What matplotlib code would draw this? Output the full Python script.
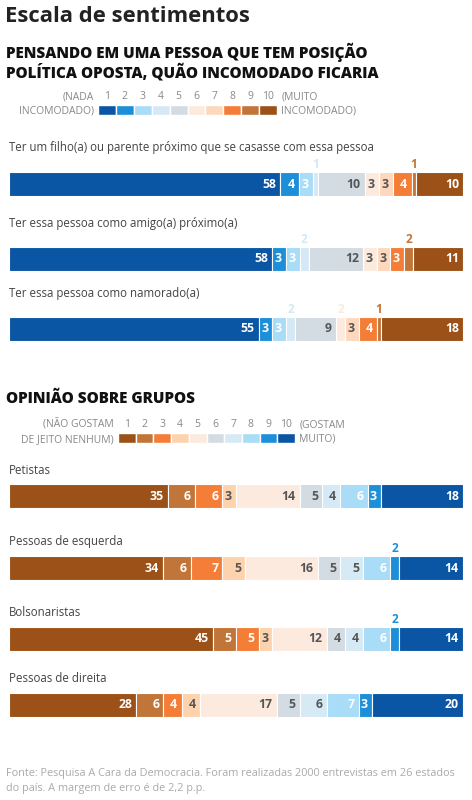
import numpy as np
import matplotlib
matplotlib.use('Agg')
import matplotlib.pyplot as plt

plt.rcParams['font.family'] = ['Open Sans', 'DejaVu Sans']

W, H = 472, 800

TITLE = 'Escala de sentimentos'
SUB1 = 'PENSANDO EM UMA PESSOA QUE TEM POSIÇÃO\nPOLÍTICA OPOSTA, QUÃO INCOMODADO FICARIA'
SUB2 = 'OPINIÃO SOBRE GRUPOS'
SOURCE = ('Fonte: Pesquisa A Cara da Democracia. Foram realizadas 2000 entrevistas em 26 estados\n'
          'do país. A margem de erro é de 2,2 p.p.')

SCALE = ['1', '2', '3', '4', '5', '6', '7', '8', '9', '10']

# section 1: 1 = nada incomodado ... 10 = muito incomodado
Q_LABELS = [
    'Ter um filho(a) ou parente próximo que se casasse com essa pessoa',
    'Ter essa pessoa como amigo(a) próximo(a)',
    'Ter essa pessoa como namorado(a)',
]
Q_VALUES = [
    [58, 4, 3, 1, 10, 3, 3, 4, 1, 10],
    [58, 3, 3, 2, 12, 3, 3, 3, 2, 11],
    [55, 3, 3, 2, 9, 2, 3, 4, 1, 18],
]
Q_COLORS = ['#0b56a4', '#1c8fd8', '#a9dcf6', '#d4e9f5', '#d3dbe3',
            '#fdeade', '#fdd8bd', '#f47d37', '#c27539', '#9b5118']
Q_TXT = ['white', 'white', 'white', 'white', '#555555',
         '#555555', '#555555', 'white', 'white', 'white']

# section 2: 1 = não gostam de jeito nenhum ... 10 = gostam muito
G_LABELS = ['Petistas', 'Pessoas de esquerda', 'Bolsonaristas', 'Pessoas de direita']
G_VALUES = [
    [35, 6, 6, 3, 14, 5, 4, 6, 3, 18],
    [34, 6, 7, 5, 16, 5, 5, 6, 2, 14],
    [45, 5, 5, 3, 12, 4, 4, 6, 2, 14],
    [28, 6, 4, 4, 17, 5, 6, 7, 3, 20],
]
G_COLORS = ['#9b5118', '#c27539', '#f47d37', '#fdd3ae', '#fdeade',
            '#d3dbe3', '#d6eaf5', '#a9dcf6', '#1c8fd8', '#0b56a4']
G_TXT = ['white', 'white', 'white', '#555555', '#555555',
         '#555555', '#555555', 'white', 'white', 'white']

fig = plt.figure(figsize=(W / 100, H / 100), dpi=100, facecolor='white')


def px_axes(x0, y0, x1, y1):
    ax = fig.add_axes([x0 / W, 1 - y1 / H, (x1 - x0) / W, (y1 - y0) / H])
    ax.set_axis_off()
    return ax


def ftext(x, y, s, **kw):
    fig.text(x / W, 1 - y / H, s, **kw)


def draw_bar(ax, values, colors, txt_colors):
    values = np.array(values, dtype=float)
    left = np.concatenate([[0], np.cumsum(values)[:-1]])
    ax.barh(0, values, left=left, height=1, color=colors, edgecolor='white', linewidth=0.8)
    ax.set_xlim(0, values.sum())
    ax.set_ylim(-0.5, 0.5)
    for v, l, c, tc in zip(values, left, colors, txt_colors):
        s = f'{int(v)}'
        if v <= 2:
            ax.annotate(s, xy=(l + v / 2, 0.5), xytext=(0, 1), textcoords='offset points',
                        ha='center', va='bottom', color=c, fontsize=8.5, fontweight='bold',
                        annotation_clip=False)
        else:
            ax.annotate(s, xy=(l + v, 0), xytext=(-3, 0), textcoords='offset points',
                        ha='right', va='center', color=tc, fontsize=8.8, fontweight='bold')


def draw_legend(x0, x1, y0, y1, colors, left_txt, right_txt):
    ax = px_axes(x0, y0, x1, y1)
    n = len(colors)
    ax.barh(0, [1] * n, left=np.arange(n), height=1, color=colors, edgecolor='white', linewidth=1)
    ax.set_xlim(0, n)
    ax.set_ylim(-0.5, 0.5)
    for i, lab in enumerate(SCALE):
        ax.annotate(lab, xy=(i + 0.5, 0.5), xytext=(0, 2), textcoords='offset points',
                    ha='center', va='bottom', color='#888888', fontsize=7.5, annotation_clip=False)
    ax.annotate(left_txt, xy=(0, 0.5), xytext=(-3, 10), textcoords='offset points',
                ha='right', va='top', color='#888888', fontsize=7.5, linespacing=1.45,
                multialignment='right', annotation_clip=False)
    ax.annotate(right_txt, xy=(n, 0.5), xytext=(3, 10), textcoords='offset points',
                ha='left', va='top', color='#888888', fontsize=7.5, linespacing=1.45,
                annotation_clip=False)


ftext(5, 16, TITLE, fontsize=15.8, fontweight='bold', color='#222222', va='center')
ftext(6, 62, SUB1, fontsize=11, fontweight='heavy', color='#111111', va='center', linespacing=1.1)

draw_legend(98, 277, 105, 115, Q_COLORS, '(NADA\nINCOMODADO)', '(MUITO\nINCOMODADO)')

q_bar_y = [172, 247, 317]
for lab, vals, y in zip(Q_LABELS, Q_VALUES, q_bar_y):
    ftext(9, y - 24, lab, fontsize=8.3, color='#444444', va='center')
    ax = px_axes(9, y, 463, y + 24)
    draw_bar(ax, vals, Q_COLORS, Q_TXT)

ftext(6, 399, SUB2, fontsize=11, fontweight='heavy', color='#111111', va='center')

draw_legend(118, 295, 433, 443, G_COLORS, '(NÃO GOSTAM\nDE JEITO NENHUM)', '(GOSTAM\nMUITO)')

g_bar_y = [484, 556, 627, 693]
for lab, vals, y in zip(G_LABELS, G_VALUES, g_bar_y):
    ftext(9, y - 14, lab, fontsize=8.3, color='#444444', va='center')
    ax = px_axes(9, y, 463, y + 24)
    draw_bar(ax, vals, G_COLORS, G_TXT)

ftext(6, 781, SOURCE, fontsize=7.8, color='#aaaaaa', va='center', linespacing=1.45)

fig.savefig('out.png', dpi=100, facecolor='white')
